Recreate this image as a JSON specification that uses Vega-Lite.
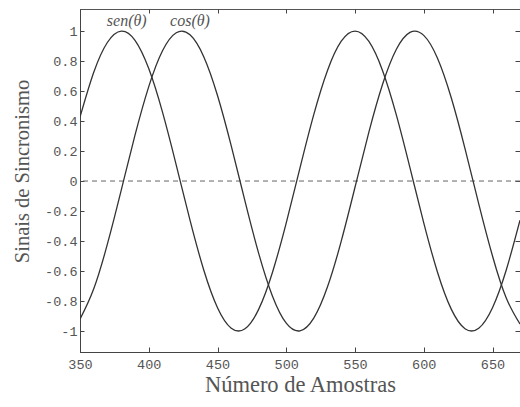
{
  "$schema": "https://vega.github.io/schema/vega-lite/v6.json",
  "width": 440,
  "height": 343,
  "autosize": "none",
  "padding": {"left": 80, "top": 9, "right": 0, "bottom": 55},
  "background": "white",
  "config": {
    "view": {"stroke": "#555", "strokeWidth": 1},
    "axis": {"grid": false, "domainColor": "#444", "tickColor": "#444", "labelFont": "Liberation Mono", "labelFontSize": 13.5, "labelColor": "#555", "titleFont": "Liberation Serif", "titleFontWeight": "normal", "titleColor": "#555"}
  },
  "datasets": {
    "curves": [
      {"x": 350, "y": 0.426, "s": "sen"}, {"x": 360, "y": 0.725, "s": "sen"}, {"x": 370, "y": 0.9252, "s": "sen"}, {"x": 380, "y": 0.9998, "s": "sen"}, {"x": 390, "y": 0.9386, "s": "sen"}, {"x": 400, "y": 0.7499, "s": "sen"}, {"x": 410, "y": 0.4594, "s": "sen"}, {"x": 420, "y": 0.1064, "s": "sen"}, {"x": 430, "y": -0.261, "s": "sen"}, {"x": 440, "y": -0.593, "s": "sen"}, {"x": 450, "y": -0.8444, "s": "sen"}, {"x": 460, "y": -0.9811, "s": "sen"}, {"x": 470, "y": -0.9845, "s": "sen"}, {"x": 480, "y": -0.8542, "s": "sen"}, {"x": 490, "y": -0.6078, "s": "sen"}, {"x": 500, "y": -0.279, "s": "sen"}, {"x": 510, "y": 0.0879, "s": "sen"}, {"x": 520, "y": 0.4428, "s": "sen"}, {"x": 530, "y": 0.7375, "s": "sen"}, {"x": 540, "y": 0.9321, "s": "sen"}, {"x": 550, "y": 1.0, "s": "sen"}, {"x": 560, "y": 0.9321, "s": "sen"}, {"x": 570, "y": 0.7375, "s": "sen"}, {"x": 580, "y": 0.4428, "s": "sen"}, {"x": 590, "y": 0.0879, "s": "sen"}, {"x": 600, "y": -0.2788, "s": "sen"}, {"x": 610, "y": -0.6078, "s": "sen"}, {"x": 620, "y": -0.8542, "s": "sen"}, {"x": 630, "y": -0.9845, "s": "sen"}, {"x": 640, "y": -0.9811, "s": "sen"}, {"x": 650, "y": -0.8443, "s": "sen"}, {"x": 660, "y": -0.593, "s": "sen"}, {"x": 670, "y": -0.261, "s": "sen"},
      {"x": 350, "y": -0.9216, "s": "cos"}, {"x": 360, "y": -0.7185, "s": "cos"}, {"x": 370, "y": -0.4177, "s": "cos"}, {"x": 380, "y": -0.0602, "s": "cos"}, {"x": 390, "y": 0.3055, "s": "cos"}, {"x": 400, "y": 0.6295, "s": "cos"}, {"x": 410, "y": 0.8683, "s": "cos"}, {"x": 420, "y": 0.989, "s": "cos"}, {"x": 430, "y": 0.9754, "s": "cos"}, {"x": 440, "y": 0.8292, "s": "cos"}, {"x": 450, "y": 0.5704, "s": "cos"}, {"x": 460, "y": 0.2341, "s": "cos"}, {"x": 470, "y": -0.134, "s": "cos"}, {"x": 480, "y": -0.4839, "s": "cos"}, {"x": 490, "y": -0.7679, "s": "cos"}, {"x": 500, "y": -0.9479, "s": "cos"}, {"x": 510, "y": -0.9989, "s": "cos"}, {"x": 520, "y": -0.9143, "s": "cos"}, {"x": 530, "y": -0.7055, "s": "cos"}, {"x": 540, "y": -0.4008, "s": "cos"}, {"x": 550, "y": -0.0417, "s": "cos"}, {"x": 560, "y": 0.323, "s": "cos"}, {"x": 570, "y": 0.644, "s": "cos"}, {"x": 580, "y": 0.8774, "s": "cos"}, {"x": 590, "y": 0.9916, "s": "cos"}, {"x": 600, "y": 0.9711, "s": "cos"}, {"x": 610, "y": 0.8188, "s": "cos"}, {"x": 620, "y": 0.555, "s": "cos"}, {"x": 630, "y": 0.2161, "s": "cos"}, {"x": 640, "y": -0.1523, "s": "cos"}, {"x": 650, "y": -0.5, "s": "cos"}, {"x": 660, "y": -0.7798, "s": "cos"}, {"x": 670, "y": -0.9536, "s": "cos"}
    ],
    "labels": [
      {"x": 384, "y": 1.065, "label": "sen(θ)"},
      {"x": 430, "y": 1.065, "label": "cos(θ)"}
    ],
    "zero": [{"y": 0}]
  },
  "layer": [
    {
      "data": {"name": "zero"},
      "mark": {"type": "rule", "color": "#666", "strokeDash": [5, 4], "strokeWidth": 1},
      "encoding": {
        "y": {"field": "y", "type": "quantitative", "scale": {"domain": [-1.14, 1.147], "nice": false, "zero": false},
              "axis": {"orient": "right", "labels": false, "title": null, "domain": false, "values": [-1, -0.8, -0.6, -0.4, -0.2, 0, 0.2, 0.4, 0.6, 0.8, 1], "tickSize": -5}}
      }
    },
    {
      "data": {"name": "curves"},
      "mark": {"type": "line", "interpolate": "natural", "color": "#333", "strokeWidth": 1.3, "clip": true},
      "encoding": {
        "x": {"field": "x", "type": "quantitative", "scale": {"domain": [350, 670], "nice": false, "zero": false},
              "axis": {"title": "Número de Amostras", "titleFontSize": 22.5, "values": [350, 400, 450, 500, 550, 600, 650], "labelFlush": false, "tickSize": -5, "labelPadding": 10, "titlePadding": 3}},
        "y": {"field": "y", "type": "quantitative", "scale": {"domain": [-1.14, 1.147], "nice": false, "zero": false},
              "axis": {"title": "Sinais de Sincronismo", "titleFontSize": 20.5, "titleY": 162, "values": [-1, -0.8, -0.6, -0.4, -0.2, 0, 0.2, 0.4, 0.6, 0.8, 1], "labelFlush": false, "tickSize": -4, "labelPadding": 7, "titlePadding": 12,
                       "labelExpr": "toString(round(datum.value*10)/10)"}},
        "detail": {"field": "s", "type": "nominal"}
      }
    },
    {
      "data": {"name": "labels"},
      "mark": {"type": "text", "font": "Liberation Serif", "fontStyle": "italic", "fontSize": 16, "color": "#555", "baseline": "middle", "align": "center"},
      "encoding": {
        "x": {"field": "x", "type": "quantitative", "scale": {"domain": [350, 670], "nice": false, "zero": false},
              "axis": {"orient": "top", "labels": false, "title": null, "domain": false, "values": [350, 400, 450, 500, 550, 600, 650], "tickSize": -4}},
        "y": {"field": "y", "type": "quantitative", "scale": {"domain": [-1.14, 1.147], "nice": false, "zero": false}, "axis": null},
        "text": {"field": "label", "type": "nominal"}
      }
    }
  ],
  "resolve": {"axis": {"x": "independent", "y": "independent"}}
}
